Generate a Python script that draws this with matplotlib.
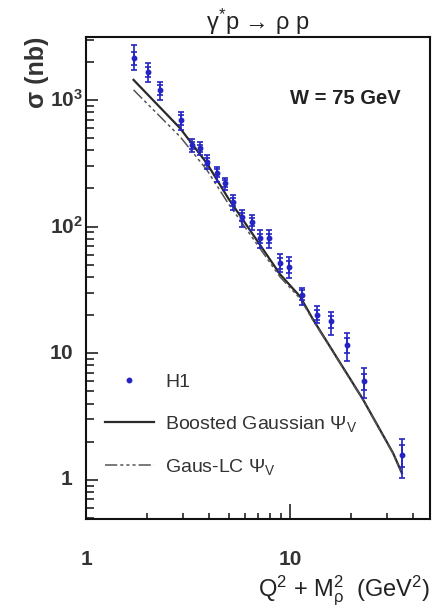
import numpy as np
import matplotlib
matplotlib.use("Agg")
import matplotlib.pyplot as plt
from matplotlib.ticker import FixedLocator, NullFormatter
from matplotlib.lines import Line2D

plt.rcParams['font.family'] = ['Liberation Sans', 'DejaVu Sans']
plt.rcParams['mathtext.fontset'] = 'custom'
plt.rcParams['mathtext.rm'] = 'Liberation Sans'
plt.rcParams['mathtext.it'] = 'Liberation Sans:italic'
plt.rcParams['mathtext.bf'] = 'Liberation Sans:bold'

####################### H1 data, W = 75 GeV #######################
q2m2 = [1.71, 2.02, 2.31, 2.91, 3.30, 3.62, 3.93, 4.40, 4.80, 5.27, 5.80,
        6.49, 7.13, 7.92, 8.93, 9.93, 11.5, 13.5, 15.8, 19.0, 23.0, 35.3]  # GeV^2
sigma = [2150, 1670, 1200, 695, 441, 415, 326, 264, 220, 157, 120,
         109, 81, 81, 51.4, 48.3, 29, 20.1, 17.8, 11.6, 6.0, 1.57]  # nb
err_lo = [425, 277, 200, 115, 50, 50, 40, 38, 25, 22, 20,
          15, 13, 13, 8, 9, 5, 2.8, 3.8, 3.0, 1.6, 0.54]
err_hi = [570, 290, 195, 114, 50, 50, 40, 34, 22, 21, 15,
          15, 13, 13, 9, 9, 4, 3.3, 3.5, 2.8, 1.6, 0.53]
stat = [250, 160, 110, 60, 28, 28, 22, 20, 13, 12, 9,
        8, 7, 7, 5, 5, 2.5, 1.8, 2.0, 1.6, 0.9, 0.3]

####################### model curves #######################
x_model = [1.71, 2.89, 3.91, 4.98, 8.93, 11.2, 13.0, 22.7, 32.0, 35.3]
boosted = [1440, 598, 316, 167, 42, 28, 18.3, 4.35, 1.62, 1.13]
gauslc = [1200, 513, 280, 152, 40, 27, 18.0, 4.3, 1.60, 1.12]

fig = plt.figure(figsize=(4.46, 6.14), dpi=100)
ax = fig.add_axes([86/446, 1-519/614, 344/446, 482/614])
ax.set_xscale('log')
ax.set_yscale('log')
ax.set_xlim(1, 48.5)
ax.set_ylim(0.49, 10**3.497)

dash_lc = (0, (8, 2, 2, 2, 2, 2, 2, 2))
ax.plot(x_model, boosted, color='#2a2a2a', lw=1.6)
ax.plot(x_model, gauslc, color='#555555', lw=1.1, ls=dash_lc)

blue = '#2424c4'
ax.errorbar(q2m2, sigma, yerr=[err_lo, err_hi], fmt='o', ms=3.2, color=blue,
            elinewidth=1.2, capsize=2.5, capthick=1.2, zorder=3)
ax.errorbar(q2m2, sigma, yerr=stat, fmt='none', ecolor=blue,
            elinewidth=1.2, capsize=2.5, capthick=1.2, zorder=3)

# ticks
ax.xaxis.set_major_locator(FixedLocator([1, 10]))
ax.xaxis.set_minor_locator(FixedLocator([2, 3, 4, 5, 6, 7, 8, 9, 20, 30, 40]))
ax.xaxis.set_major_formatter(NullFormatter())
ax.xaxis.set_minor_formatter(NullFormatter())
ax.yaxis.set_major_locator(FixedLocator([1, 10, 100, 1000]))
ax.yaxis.set_minor_locator(FixedLocator([0.5, 0.6, 0.7, 0.8, 0.9] +
                                        [k*10**e for e in range(0, 4) for k in range(2, 10)]))
ax.yaxis.set_major_formatter(NullFormatter())
ax.yaxis.set_minor_formatter(NullFormatter())
ax.tick_params(axis='both', which='both', direction='in', top=False, right=False, width=1.2, color='#222222')
ax.tick_params(axis='x', which='major', length=11)
ax.tick_params(axis='x', which='minor', length=4.5)
ax.tick_params(axis='y', which='major', length=8.5)
ax.tick_params(axis='y', which='minor', length=5.5)
for s in ax.spines.values():
    s.set_linewidth(1.5)
    s.set_color('#111111')

# tick labels
ylab_vals = [1, 10, 100, 1000]
ylab_txt = [r'$\mathbf{1}$', r'$\mathbf{10}$', r'$\mathbf{10^{2}}$', r'$\mathbf{10^{3}}$']
for v, t in zip(ylab_vals, ylab_txt):
    xpos = -0.01 if v >= 100 else -0.038
    ax.text(xpos, v, t, transform=ax.get_yaxis_transform(),
            ha='right', va='center', fontsize=15, color='#333333')
xlab_vals = [1, 10]
xlab_txt = ['1', '10']
for v, t in zip(xlab_vals, xlab_txt):
    ax.text(v, -0.083, t, transform=ax.get_xaxis_transform(), ha='center', va='center',
            fontsize=15, fontweight='bold', color='#333333')

ax.set_title('γ$^{*}$p → ρ p', fontsize=17, pad=5, color='#222222')
ax.text(0.593, 0.872, 'W = 75 GeV', transform=ax.transAxes, fontsize=14.5,
        fontweight='bold', color='#222222', va='center')

ax.set_xlabel('Q$^2$ + M$_{\\mathrm{ρ}}^2$  (GeV$^2$)', fontsize=17, loc='right', color='#222222')
ax.xaxis.set_label_coords(1.0, -0.113)
ax.set_ylabel('σ (nb)', fontsize=18, fontweight='bold', loc='top', color='#333333')
ax.yaxis.set_label_coords(-0.108, 1.0)

handles = [Line2D([], [], ls='none', marker='o', ms=3.2, color=blue),
           Line2D([], [], color='#2a2a2a', lw=1.6),
           Line2D([], [], color='#555555', lw=1.1, ls=dash_lc)]
labels = ['H1', 'Boosted Gaussian Ψ$_{\\mathrm{V}}$', 'Gaus-LC Ψ$_{\\mathrm{V}}$']
leg = ax.legend(handles, labels, loc='upper left', bbox_to_anchor=(0.055, 0.303),
                frameon=False, fontsize=14, handlelength=2.5, handletextpad=0.6,
                labelspacing=1.2, borderpad=0, borderaxespad=0)
for t in leg.get_texts():
    t.set_color('#333333')

fig.savefig('out.png', dpi=100)
